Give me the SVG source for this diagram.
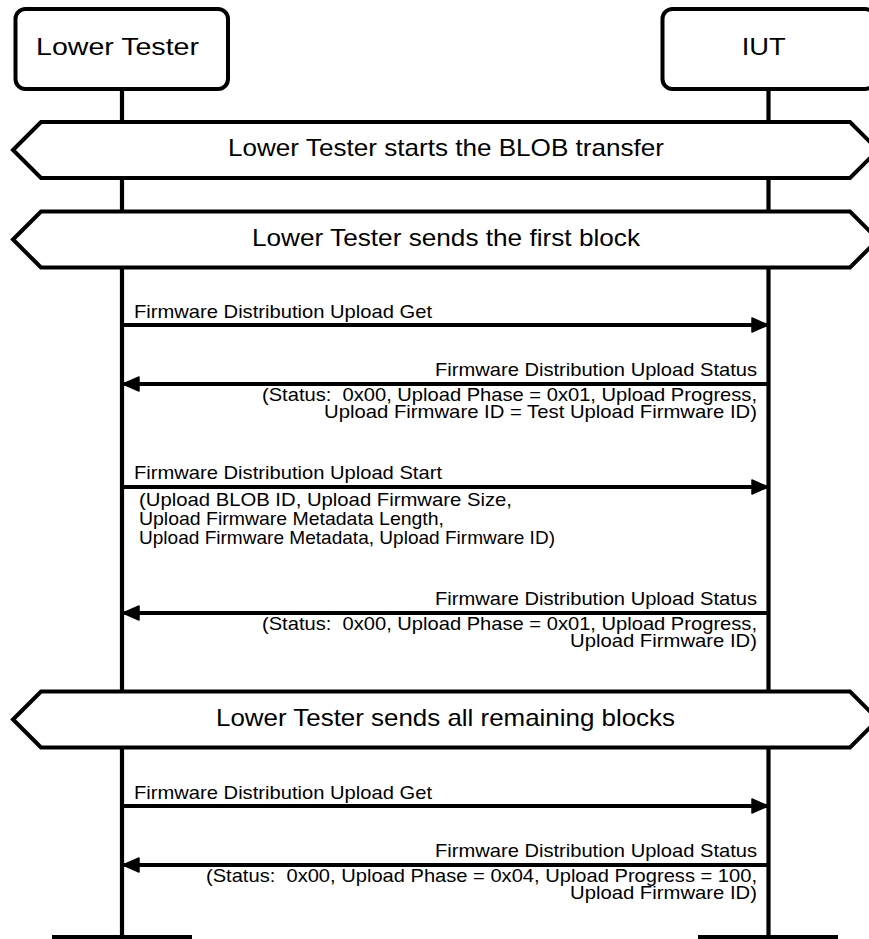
<svg xmlns="http://www.w3.org/2000/svg" width="869" height="939" viewBox="0 0 869 939">
<style>
.box{fill:#fff;stroke:#000;stroke-width:4}
.life{stroke:#000;stroke-width:4.2;fill:none}
.hex{fill:#fff;stroke:#000;stroke-width:4;stroke-linejoin:miter}
.msg{stroke:#000;stroke-width:4;fill:none}
.t1{font-family:"Liberation Sans",Arial,sans-serif;font-size:24px;fill:#000}
.t2{font-family:"Liberation Sans",Arial,sans-serif;font-size:18.6px;fill:#000}
</style>
<defs>
<marker id="ah" markerUnits="userSpaceOnUse" markerWidth="20" markerHeight="20" refX="17" refY="8" orient="auto">
<path d="M1,1 L17,8 L1,15 z" fill="#000" stroke="#000" stroke-width="1.5" stroke-linejoin="round"/>
</marker>
</defs>
<g id="lifelines">
<line class="life" x1="122" y1="89" x2="122" y2="937"/>
<line class="life" x1="768.5" y1="89" x2="768.5" y2="937"/>
<line class="life" x1="52" y1="937" x2="192" y2="937"/>
<line class="life" x1="698" y1="937" x2="838" y2="937"/>
</g>
<g id="lower-tester">
<rect class="box" x="15.5" y="9" width="212.5" height="80" rx="10"/>
<text class="t1" x="36" y="55" textLength="163" lengthAdjust="spacingAndGlyphs">Lower Tester</text>
</g>
<g id="iut">
<rect class="box" x="662.5" y="9" width="212.5" height="80" rx="10"/>
<text class="t1" x="741.7" y="55" textLength="44" lengthAdjust="spacingAndGlyphs">IUT</text>
</g>
<g id="hex1">
<polygon class="hex" points="13,150 41,122 850,122 878,150 850,178 41,178"/>
<text class="t1" x="228" y="156" textLength="436" lengthAdjust="spacingAndGlyphs">Lower Tester starts the BLOB transfer</text>
</g>
<g id="hex2">
<polygon class="hex" points="13,239.5 41,211.5 850,211.5 878,239.5 850,267.5 41,267.5"/>
<text class="t1" x="252" y="246" textLength="388" lengthAdjust="spacingAndGlyphs">Lower Tester sends the first block</text>
</g>
<g id="hex3">
<polygon class="hex" points="13,719.5 41,691.5 850,691.5 878,719.5 850,747.5 41,747.5"/>
<text class="t1" x="216" y="726" textLength="459" lengthAdjust="spacingAndGlyphs">Lower Tester sends all remaining blocks</text>
</g>
<g id="connectors">
<line class="msg" x1="122" y1="325" x2="768" y2="325" marker-end="url(#ah)"/>
<line class="msg" x1="768.5" y1="384" x2="123" y2="384" marker-end="url(#ah)"/>
<line class="msg" x1="122" y1="487" x2="768" y2="487" marker-end="url(#ah)"/>
<line class="msg" x1="768.5" y1="613" x2="123" y2="613" marker-end="url(#ah)"/>
<line class="msg" x1="122" y1="806" x2="768" y2="806" marker-end="url(#ah)"/>
<line class="msg" x1="768.5" y1="865" x2="123" y2="865" marker-end="url(#ah)"/>
</g>
<g id="labels">
<text class="t2" x="134" y="318" textLength="298" lengthAdjust="spacingAndGlyphs">Firmware Distribution Upload Get</text>

<text class="t2" x="757" y="376" text-anchor="end" textLength="322" lengthAdjust="spacingAndGlyphs">Firmware Distribution Upload Status</text>
<text class="t2" x="757" y="401" text-anchor="end" textLength="495" lengthAdjust="spacingAndGlyphs" xml:space="preserve">(Status:  0x00, Upload Phase = 0x01, Upload Progress,</text>
<text class="t2" x="757" y="418" text-anchor="end" textLength="433" lengthAdjust="spacingAndGlyphs">Upload Firmware ID = Test Upload Firmware ID)</text>

<text class="t2" x="134" y="479" textLength="308" lengthAdjust="spacingAndGlyphs">Firmware Distribution Upload Start</text>
<text class="t2" x="139" y="506" textLength="373" lengthAdjust="spacingAndGlyphs">(Upload BLOB ID, Upload Firmware Size,</text>
<text class="t2" x="139" y="525" textLength="305" lengthAdjust="spacingAndGlyphs">Upload Firmware Metadata Length,</text>
<text class="t2" x="139" y="544" textLength="416" lengthAdjust="spacingAndGlyphs">Upload Firmware Metadata, Upload Firmware ID)</text>

<text class="t2" x="757" y="605" text-anchor="end" textLength="322" lengthAdjust="spacingAndGlyphs">Firmware Distribution Upload Status</text>
<text class="t2" x="757" y="630" text-anchor="end" textLength="495" lengthAdjust="spacingAndGlyphs" xml:space="preserve">(Status:  0x00, Upload Phase = 0x01, Upload Progress,</text>
<text class="t2" x="757" y="647" text-anchor="end" textLength="187" lengthAdjust="spacingAndGlyphs">Upload Firmware ID)</text>

<text class="t2" x="134" y="799" textLength="298" lengthAdjust="spacingAndGlyphs">Firmware Distribution Upload Get</text>

<text class="t2" x="757" y="857" text-anchor="end" textLength="322" lengthAdjust="spacingAndGlyphs">Firmware Distribution Upload Status</text>
<text class="t2" x="757" y="882" text-anchor="end" textLength="551" lengthAdjust="spacingAndGlyphs" xml:space="preserve">(Status:  0x00, Upload Phase = 0x04, Upload Progress = 100,</text>
<text class="t2" x="757" y="899" text-anchor="end" textLength="187" lengthAdjust="spacingAndGlyphs">Upload Firmware ID)</text>
</g>
</svg>
